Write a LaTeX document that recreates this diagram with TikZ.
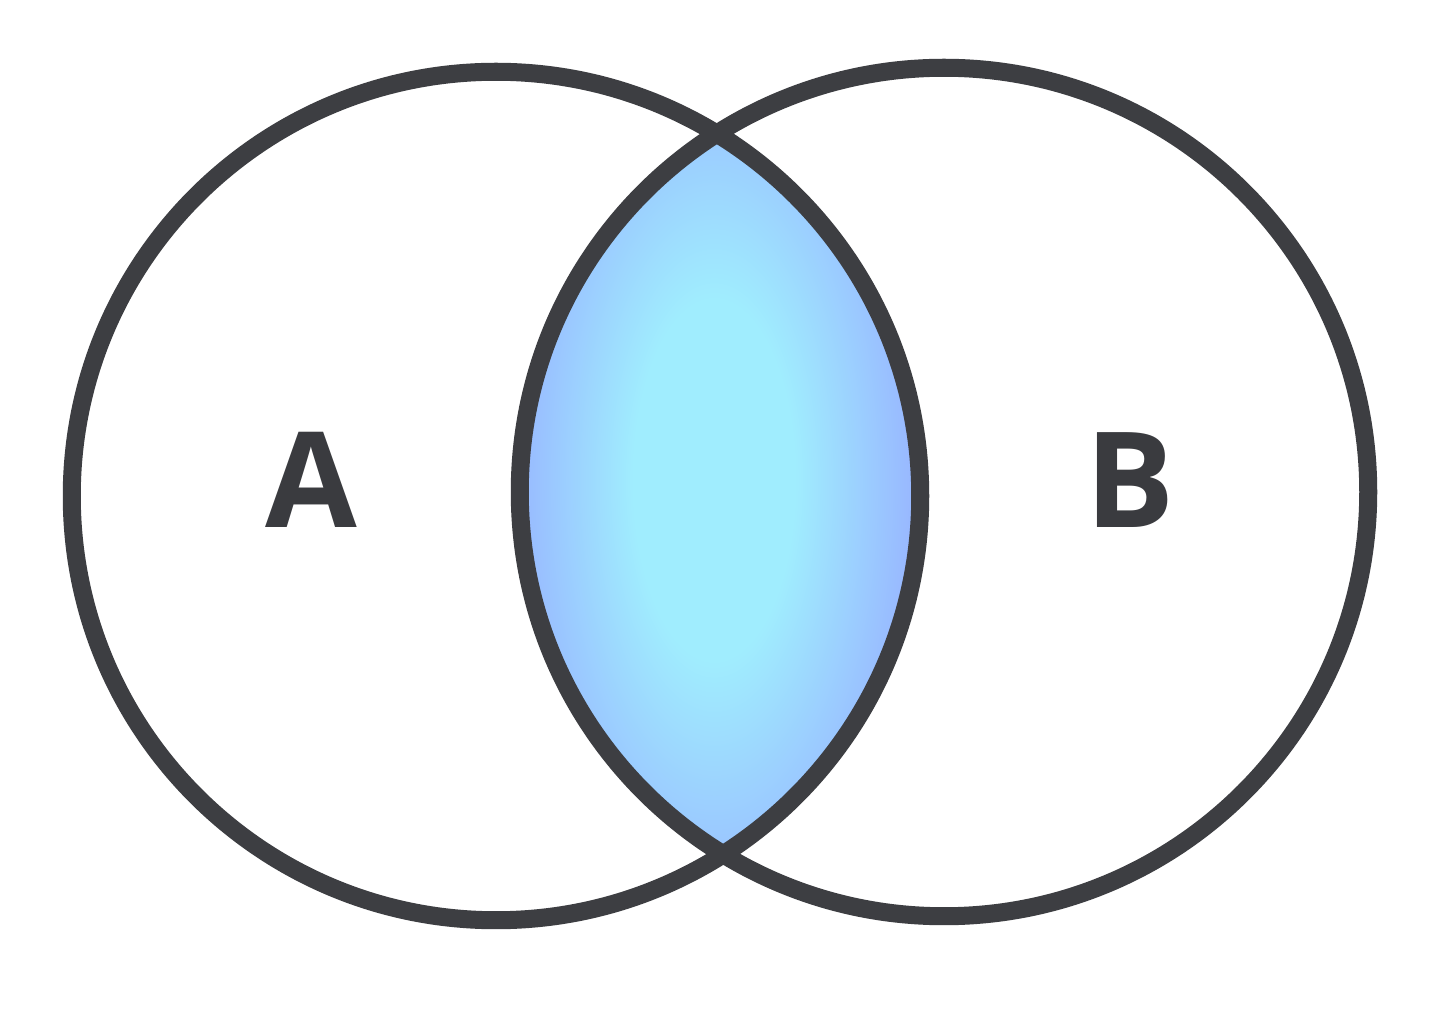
\documentclass[tikz,border=0pt]{standalone}
\usepackage{fontspec}
\setmainfont{Open Sans}
\definecolor{edgegray}{RGB}{61,62,66}
\definecolor{textgray}{RGB}{58,59,63}
\definecolor{lensin}{RGB}{160,237,254}
\definecolor{lensout}{RGB}{152,182,255}
\pgfdeclareradialshading{lensshade}{\pgfpoint{0bp}{0bp}}{color(0bp)=(lensin); color(10bp)=(lensin); color(25bp)=(lensout); color(50bp)=(lensout)}
\tikzset{
  setcircle/.style={circle, draw=edgegray, line width=0.18cm, minimum size=8.48cm, inner sep=0pt, outer sep=0pt},
  setlabel/.style={text=textgray, font=\fontsize{37.8}{40}\selectfont\bfseries, inner sep=0pt}
}
\begin{document}
\begin{tikzpicture}[x=0.01cm, y=-0.01cm]
\useasboundingbox[fill=white] (0,0) rectangle (1445,1025);
\coordinate (ca) at (496,496);
\coordinate (cb) at (944,492);
\begin{scope}
  \clip (ca) circle[radius=4.24cm];
  \clip (cb) circle[radius=4.24cm];
  \shade[shading=lensshade] (512,30) rectangle (916,930);
\end{scope}
\node[setcircle] (A) at (ca) {};
\node[setcircle] (B) at (cb) {};
\node[setlabel] (la) at (311,480) {A};
\node[setlabel] (lb) at (1130,480) {B};
\end{tikzpicture}
\end{document}
